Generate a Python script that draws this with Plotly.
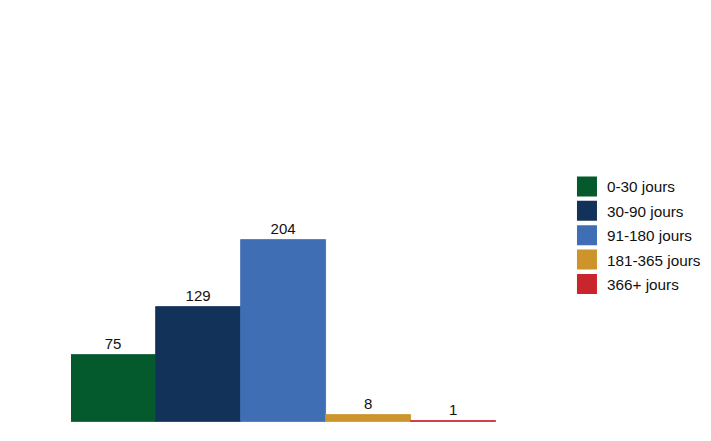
import plotly.graph_objects as go

categories = ["0-30 jours", "30-90 jours", "91-180 jours", "181-365 jours", "366+ jours"]
values = [75, 129, 204, 8, 1]
colors = ["#04592D", "#12325A", "#3F6EB5", "#CC942B", "#C9252C"]

fig = go.Figure()
for cat, val, col in zip(categories, values, colors):
    fig.add_trace(go.Bar(
        x=[cat], y=[val], marker=dict(color=col, line=dict(width=0.8, color=col)),
        text=[str(val)], textposition="outside",
        textfont=dict(size=15, color="#111111"),
        showlegend=False, cliponaxis=False, width=1,
    ))
for i, (cat, col) in enumerate(zip(categories, colors)):
    fig.add_trace(go.Scatter(
        x=[None], y=[None], mode="markers", name=cat, legendgroup=str(i),
        marker=dict(symbol="square", size=16, color=col, line=dict(width=4, color=col)),
    ))

fig.update_layout(
    width=730, height=425,
    margin=dict(l=63, r=242, t=12, b=11),
    paper_bgcolor="white", plot_bgcolor="white",
    barmode="overlay", bargap=0,
    font=dict(family="Liberation Sans, Arial, sans-serif", size=15, color="#111111"),
    xaxis=dict(visible=False, range=[-0.5, 4.5], categoryorder="array", categoryarray=categories),
    yaxis=dict(visible=False, range=[0, 450]),
    legend=dict(x=1.167, y=0.627, xanchor="left", yanchor="top",
                font=dict(size=15.3, color="#111111"), tracegroupgap=1.5,
                itemsizing="trace"),
)
fig.write_html("out.html")
